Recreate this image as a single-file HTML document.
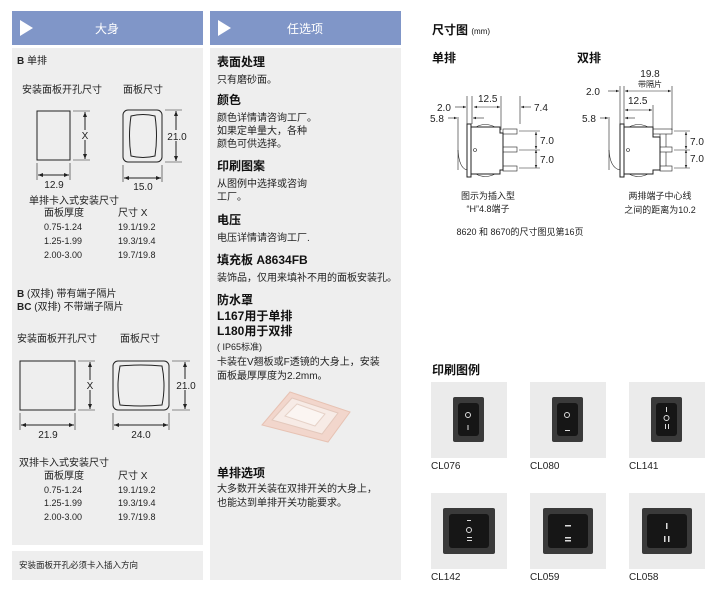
<!DOCTYPE html>
<html><head><meta charset="utf-8"><style>
html,body{margin:0;padding:0;background:#fff;}
svg{display:block;font-family:"Liberation Sans","Noto Sans CJK SC",sans-serif;}
.t{font-size:10px;fill:#222}
.b{font-size:12px;font-weight:bold;fill:#111}
.s{font-size:9px;fill:#222}
.ln{stroke:#222;stroke-width:1;fill:none}
.th{stroke:#222;stroke-width:0.6;fill:none}
</style></head><body>
<svg width="719" height="590" viewBox="0 0 719 590" xmlns="http://www.w3.org/2000/svg">
<defs>
<marker id="a" viewBox="0 0 10 10" refX="10" refY="5" markerWidth="5" markerHeight="5" orient="auto-start-reverse"><path d="M0,1 L10,5 L0,9z" fill="#222"/></marker>
</defs>
<!-- panels -->
<rect x="12" y="11" width="191" height="34" fill="#8096c8"/>
<polygon points="20,20 20,36 33,28" fill="#fff"/>
<text x="107" y="33" font-size="12" fill="#fff" text-anchor="middle">大身</text>
<rect x="12" y="48" width="191" height="497" fill="#eeeeee"/>
<rect x="12" y="551" width="191" height="29" fill="#eeeeee"/>
<rect x="210" y="11" width="191" height="34" fill="#8096c8"/>
<polygon points="218,20 218,36 231,28" fill="#fff"/>
<text x="305" y="33" font-size="12" fill="#fff" text-anchor="middle">任选项</text>
<rect x="210" y="48" width="191" height="532" fill="#eeeeee"/>

<!-- left top -->
<text x="17" y="64" class="t"><tspan font-weight="bold">B</tspan> 单排</text>
<text x="22" y="93" class="t">安装面板开孔尺寸</text>
<text x="123" y="93" class="t">面板尺寸</text>
<rect x="37" y="111" width="33" height="49" class="ln"/>
<path d="M73,111H90 M73,160H90 M37,163V180 M70,163V180" class="th"/>
<line x1="85" y1="112" x2="85" y2="159" class="ln" marker-start="url(#a)" marker-end="url(#a)"/>
<rect x="81" y="130" width="8" height="10" fill="#eee"/>
<text x="85" y="139" class="t" text-anchor="middle">X</text>
<line x1="38" y1="175" x2="69" y2="175" class="ln" marker-start="url(#a)" marker-end="url(#a)"/>
<text x="54" y="188" class="t" text-anchor="middle">12.9</text>
<rect x="123" y="110" width="39" height="52" rx="5" class="ln"/>
<path d="M131,116 Q143,113 155,116 Q158,136 155,156 Q143,159 131,156 Q128,136 131,116z" class="ln"/>
<path d="M165,110H182 M165,162H182 M123,165V182 M162,165V182" class="th"/>
<line x1="176" y1="111" x2="176" y2="161" class="ln" marker-start="url(#a)" marker-end="url(#a)"/>
<rect x="166" y="130" width="22" height="11" fill="#eee"/>
<text x="177" y="140" class="t" text-anchor="middle">21.0</text>
<line x1="124" y1="178" x2="161" y2="178" class="ln" marker-start="url(#a)" marker-end="url(#a)"/>
<text x="143" y="190" class="t" text-anchor="middle">15.0</text>
<text x="29" y="204" class="t">单排卡入式安装尺寸</text>
<text x="44" y="216" class="t">面板厚度</text><text x="118" y="216" class="t">尺寸 X</text>
<text x="44" y="230" class="s">0.75-1.24</text><text x="118" y="230" class="s">19.1/19.2</text>
<text x="44" y="244" class="s">1.25-1.99</text><text x="118" y="244" class="s">19.3/19.4</text>
<text x="44" y="258" class="s">2.00-3.00</text><text x="118" y="258" class="s">19.7/19.8</text>

<!-- left bottom -->
<text x="17" y="297" class="t"><tspan font-weight="bold">B</tspan> (双排) 带有端子隔片</text>
<text x="17" y="310" class="t"><tspan font-weight="bold">BC</tspan> (双排) 不带端子隔片</text>
<text x="17" y="342" class="t">安装面板开孔尺寸</text>
<text x="120" y="342" class="t">面板尺寸</text>
<rect x="20" y="361" width="55" height="49" class="ln"/>
<path d="M78,361H95 M78,410H95 M20,413V430 M75,413V430" class="th"/>
<line x1="90" y1="362" x2="90" y2="409" class="ln" marker-start="url(#a)" marker-end="url(#a)"/>
<rect x="86" y="380" width="8" height="10" fill="#eee"/>
<text x="90" y="389" class="t" text-anchor="middle">X</text>
<line x1="21" y1="425" x2="74" y2="425" class="ln" marker-start="url(#a)" marker-end="url(#a)"/>
<text x="48" y="438" class="t" text-anchor="middle">21.9</text>
<rect x="113" y="361" width="56" height="49" rx="5" class="ln"/>
<path d="M120,366 Q141,364 162,366 Q166,386 162,405 Q141,407 120,405 Q116,386 120,366z" class="ln"/>
<path d="M172,361H190 M172,410H190 M113,413V430 M169,413V430" class="th"/>
<line x1="185" y1="362" x2="185" y2="409" class="ln" marker-start="url(#a)" marker-end="url(#a)"/>
<rect x="175" y="379" width="22" height="11" fill="#eee"/>
<text x="186" y="389" class="t" text-anchor="middle">21.0</text>
<line x1="114" y1="425" x2="168" y2="425" class="ln" marker-start="url(#a)" marker-end="url(#a)"/>
<text x="141" y="438" class="t" text-anchor="middle">24.0</text>
<text x="19" y="466" class="t">双排卡入式安装尺寸</text>
<text x="44" y="479" class="t">面板厚度</text><text x="118" y="479" class="t">尺寸 X</text>
<text x="44" y="493" class="s">0.75-1.24</text><text x="118" y="493" class="s">19.1/19.2</text>
<text x="44" y="506" class="s">1.25-1.99</text><text x="118" y="506" class="s">19.3/19.4</text>
<text x="44" y="520" class="s">2.00-3.00</text><text x="118" y="520" class="s">19.7/19.8</text>
<text x="19" y="568" font-size="8.5" fill="#222">安装面板开孔必须卡入插入方向</text>

<!-- middle -->
<text x="217" y="66" class="b">表面处理</text>
<text x="217" y="83" class="t">只有磨砂面。</text>
<text x="217" y="104" class="b">颜色</text>
<text x="217" y="121" class="t">颜色详情请咨询工厂。</text>
<text x="217" y="134" class="t">如果定单量大，各种</text>
<text x="217" y="147" class="t">颜色可供选择。</text>
<text x="217" y="170" class="b">印刷图案</text>
<text x="217" y="187" class="t">从图例中选择或咨询</text>
<text x="217" y="200" class="t">工厂。</text>
<text x="217" y="224" class="b">电压</text>
<text x="217" y="241" class="t">电压详情请咨询工厂.</text>
<text x="217" y="264" class="b" font-size="11">填充板 A8634FB</text>
<text x="217" y="281" class="t">装饰品，仅用来填补不用的面板安装孔。</text>
<text x="217" y="304" class="b">防水罩</text>
<text x="217" y="320" class="b">L167用于单排</text>
<text x="217" y="335" class="b">L180用于双排</text>
<text x="217" y="350" class="s">( IP65标准)</text>
<text x="217" y="365" class="t">卡装在V翘板或F透镜的大身上，安装</text>
<text x="217" y="379" class="t">面板最厚厚度为2.2mm。</text>
<g>
<path d="M262,425 L290,392 L350,412 L328,442 Z" fill="#f2d6cc" stroke="#e7c2b3"/>
<path d="M272,420 L292,398 L338,413 L322,434 Z" fill="#f7ebe6" stroke="#e3c8bc"/>
<path d="M285,416 L297,404 L325,414 L315,426 Z" fill="#fbf5f2" stroke="#e6d2c8"/>
</g>
<text x="217" y="477" class="b">单排选项</text>
<text x="217" y="492" class="t">大多数开关装在双排开关的大身上，</text>
<text x="217" y="506" class="t">也能达到单排开关功能要求。</text>

<!-- right dims -->
<text x="432" y="34" class="b" font-size="11">尺寸图 <tspan font-size="8" font-weight="normal">(mm)</tspan></text>
<text x="432" y="62" class="b" font-size="11">单排</text>
<text x="577" y="62" class="b" font-size="11">双排</text>
<!-- single -->
<g class="th">
<path d="M467,96V124 M472,96V124 M501,96V130 M520,96V124 M458,117V170"/>
</g>
<line x1="455" y1="107" x2="466" y2="107" class="th" marker-end="url(#a)"/>
<text x="437" y="111" class="t">2.0</text>
<line x1="474" y1="107" x2="500" y2="107" class="th" marker-start="url(#a)" marker-end="url(#a)"/>
<text x="478" y="102" class="t">12.5</text>
<line x1="531" y1="107" x2="521" y2="107" class="th" marker-end="url(#a)"/>
<text x="534" y="111" class="t">7.4</text>
<line x1="448" y1="118" x2="457" y2="118" class="th" marker-end="url(#a)"/>
<text x="430" y="122" class="t">5.8</text>
<line x1="484" y1="118" x2="473" y2="118" class="th" marker-end="url(#a)"/>
<rect x="467" y="124" width="4" height="53" class="ln" fill="#fff"/>
<path d="M471,127 L500,127 L500,133 L503,133 L503,170 L500,170 L500,174 L471,174" class="ln"/>
<path d="M476,127 Q485,122 495,127 M476,174 Q485,179 495,174" class="th"/>
<path d="M458,150 Q459,168 467,170" class="th"/>
<circle cx="475" cy="150" r="1.5" class="th"/>
<g class="th">
<rect x="503" y="129" width="14" height="5"/><rect x="503" y="147" width="14" height="5"/><rect x="503" y="166" width="14" height="5"/>
</g>
<line x1="536" y1="132" x2="536" y2="149" class="th" marker-start="url(#a)" marker-end="url(#a)"/>
<line x1="536" y1="150" x2="536" y2="168" class="th" marker-start="url(#a)" marker-end="url(#a)"/>
<path d="M519,131H540 M519,150H540 M519,168H540" class="th"/>
<text x="540" y="144" class="t">7.0</text>
<text x="540" y="163" class="t">7.0</text>
<text x="488" y="199" class="s" text-anchor="middle">图示为插入型</text>
<text x="488" y="212" class="s" text-anchor="middle">“H”4.8端子</text>
<!-- double -->
<g class="th"><path d="M620,86V124 M624,86V124 M653,105V134 M672,86V130 M609,117V170"/></g>
<text x="650" y="77" class="t" text-anchor="middle">19.8</text>
<text x="650" y="87" font-size="8" fill="#222" text-anchor="middle">带隔片</text>
<line x1="625" y1="91" x2="671" y2="91" class="th" marker-start="url(#a)" marker-end="url(#a)"/>
<line x1="608" y1="91" x2="619" y2="91" class="th" marker-end="url(#a)"/>
<text x="586" y="95" class="t">2.0</text>
<text x="628" y="104" class="t">12.5</text>
<line x1="625" y1="110" x2="652" y2="110" class="th" marker-start="url(#a)" marker-end="url(#a)"/>
<line x1="600" y1="118" x2="608" y2="118" class="th" marker-end="url(#a)"/>
<text x="582" y="122" class="t">5.8</text>
<line x1="635" y1="118" x2="625" y2="118" class="th" marker-end="url(#a)"/>
<rect x="620" y="124" width="4" height="53" class="ln" fill="#fff"/>
<path d="M624,127 L653,127 L653,137 L660,137 L660,170 L653,170 L653,174 L624,174" class="ln"/>
<path d="M629,127 Q638,122 648,127 M629,174 Q638,179 648,174" class="th"/>
<path d="M609,150 Q610,168 620,170" class="th"/>
<circle cx="628" cy="150" r="1.5" class="th"/>
<g class="th">
<rect x="653" y="129" width="19" height="5"/><rect x="660" y="147" width="12" height="5"/><rect x="660" y="166" width="12" height="5"/>
<path d="M660,134V147 M666,134V147 M660,152V166 M666,152V166"/>
</g>
<line x1="686" y1="132" x2="686" y2="149" class="th" marker-start="url(#a)" marker-end="url(#a)"/>
<line x1="686" y1="150" x2="686" y2="168" class="th" marker-start="url(#a)" marker-end="url(#a)"/>
<path d="M674,131H690 M674,150H690 M674,168H690" class="th"/>
<text x="690" y="145" class="t">7.0</text>
<text x="690" y="162" class="t">7.0</text>
<text x="660" y="199" class="s" text-anchor="middle">两排端子中心线</text>
<text x="660" y="213" class="s" text-anchor="middle">之间的距离为10.2</text>
<text x="520" y="235" class="s" text-anchor="middle">8620 和 8670的尺寸图见第16页</text>

<!-- legend -->
<text x="432" y="374" class="b" font-size="11">印刷图例</text>
<g>
<rect x="431" y="382" width="76" height="76" fill="#ebebeb"/>
<rect x="453" y="397" width="31" height="45" rx="2" fill="#3a3a3a"/><rect x="458" y="403" width="21" height="33" rx="3" fill="#161616"/>
<circle cx="468" cy="415" r="2.5" stroke="#ddd" fill="none"/><rect x="467.5" y="425" width="1" height="5" fill="#ddd"/>
<text x="431" y="469" class="t">CL076</text>
<rect x="530" y="382" width="76" height="76" fill="#ebebeb"/>
<rect x="552" y="397" width="31" height="45" rx="2" fill="#3a3a3a"/><rect x="557" y="403" width="21" height="33" rx="3" fill="#161616"/>
<circle cx="567" cy="415" r="2.5" stroke="#ddd" fill="none"/><rect x="565" y="430" width="5" height="1" fill="#ddd"/>
<text x="530" y="469" class="t">CL080</text>
<rect x="629" y="382" width="76" height="76" fill="#ebebeb"/>
<rect x="651" y="397" width="31" height="45" rx="2" fill="#3a3a3a"/><rect x="656" y="403" width="21" height="33" rx="3" fill="#161616"/>
<rect x="666" y="407" width="1" height="5" fill="#ddd"/><circle cx="666.5" cy="418" r="2.5" stroke="#ddd" fill="none"/><rect x="665" y="424" width="1" height="5" fill="#ddd"/><rect x="668" y="424" width="1" height="5" fill="#ddd"/>
<text x="629" y="469" class="t">CL141</text>
<rect x="431" y="493" width="76" height="76" fill="#ebebeb"/>
<rect x="443" y="508" width="52" height="46" rx="2" fill="#3a3a3a"/><rect x="449" y="514" width="40" height="34" rx="3" fill="#161616"/>
<rect x="467" y="520" width="4" height="1" fill="#ddd"/><circle cx="469" cy="530" r="2.5" stroke="#ddd" fill="none"/><rect x="467" y="537" width="5" height="1" fill="#ddd"/><rect x="467" y="540" width="5" height="1" fill="#ddd"/>
<text x="431" y="580" class="t">CL142</text>
<rect x="530" y="493" width="76" height="76" fill="#ebebeb"/>
<rect x="543" y="508" width="50" height="46" rx="2" fill="#3a3a3a"/><rect x="548" y="514" width="40" height="34" rx="3" fill="#161616"/>
<rect x="565" y="525" width="6" height="1.5" fill="#ddd"/><rect x="565" y="537" width="6" height="1.5" fill="#ddd"/><rect x="565" y="540" width="6" height="1.5" fill="#ddd"/>
<text x="530" y="580" class="t">CL059</text>
<rect x="629" y="493" width="76" height="76" fill="#ebebeb"/>
<rect x="642" y="508" width="50" height="46" rx="2" fill="#3a3a3a"/><rect x="647" y="514" width="40" height="34" rx="3" fill="#161616"/>
<rect x="666" y="523" width="1.5" height="6" fill="#ddd"/><rect x="664" y="536" width="1.5" height="6" fill="#ddd"/><rect x="668" y="536" width="1.5" height="6" fill="#ddd"/>
<text x="629" y="580" class="t">CL058</text>
</g>
</svg>
</body></html>
